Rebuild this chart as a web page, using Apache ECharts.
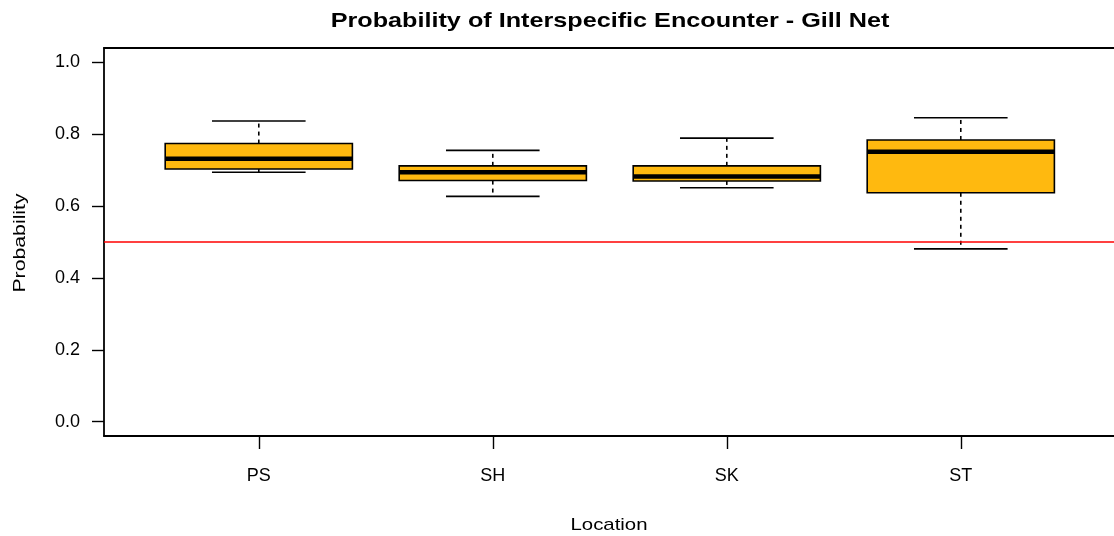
<!DOCTYPE html>
<html>
<head>
<meta charset="utf-8">
<script src="https://cdn.jsdelivr.net/npm/echarts@6/dist/echarts.min.js"></script>
<style>
html,body{margin:0;padding:0;background:#fff;}
#chart{width:1114px;height:536px;}
</style>
</head>
<body>
<div id="chart"></div>
<script>
// ---- data ----
var categories = ['PS', 'SH', 'SK', 'ST'];
var lowerWhisker = [0.694, 0.627, 0.651, 0.481];
var q1 = [0.703, 0.671, 0.670, 0.637];
var median = [0.732, 0.694, 0.682, 0.751];
var q3 = [0.774, 0.712, 0.712, 0.784];
var upperWhisker = [0.837, 0.755, 0.789, 0.846];
var refLine = 0.5;
var yTicks = [0, 0.2, 0.4, 0.6, 0.8, 1.0];
var titleText = 'Probability of Interspecific Encounter - Gill Net';
var xName = 'Location';
var yName = 'Probability';

var FONT = '"Liberation Sans", Arial, sans-serif';
var boxData = categories.map(function (c, i) {
  return [i + 1, lowerWhisker[i], q1[i], median[i], q3[i], upperWhisker[i]];
});
var xTickValues = categories.map(function (c, i) { return i + 1; });
var X_MIN = 0.3385, X_MAX = 0.3385 + 1010 / 234;

var chart = echarts.init(document.getElementById('chart'), null, {renderer: 'canvas'});

function renderBox(params, api) {
  var x = api.value(0);
  var lo = api.value(1), b1 = api.value(2), md = api.value(3), b3 = api.value(4), hi = api.value(5);
  var hw = 0.4, cw = 0.2;
  var pLo = api.coord([x, lo]), pB1 = api.coord([x, b1]), pMd = api.coord([x, md]);
  var pB3 = api.coord([x, b3]), pHi = api.coord([x, hi]);
  var xl = api.coord([x - hw, md])[0], xr = api.coord([x + hw, md])[0];
  var cl = api.coord([x - cw, md])[0], cr = api.coord([x + cw, md])[0];
  var dash = {stroke: '#000', lineWidth: 1.6, lineDash: [4, 4]};
  var solid = {stroke: '#000', lineWidth: 1.6};
  return {
    type: 'group',
    children: [
      {type: 'line', shape: {x1: pB3[0], y1: pB3[1], x2: pHi[0], y2: pHi[1]}, style: dash},
      {type: 'line', shape: {x1: pB1[0], y1: pB1[1], x2: pLo[0], y2: pLo[1]}, style: dash},
      {type: 'line', shape: {x1: cl, y1: pHi[1], x2: cr, y2: pHi[1]}, style: solid},
      {type: 'line', shape: {x1: cl, y1: pLo[1], x2: cr, y2: pLo[1]}, style: solid},
      {type: 'rect', shape: {x: xl, y: pB3[1], width: xr - xl, height: pB1[1] - pB3[1]},
       style: {fill: '#FFB90F', stroke: '#000', lineWidth: 1.6}},
      {type: 'line', shape: {x1: xl, y1: pMd[1], x2: xr, y2: pMd[1]}, style: {stroke: '#000', lineWidth: 4.5}}
    ]
  };
}

var option = {
  animation: false,
  backgroundColor: '#fff',
  textStyle: {fontFamily: FONT},
  grid: {left: 104, top: 48, right: 0, height: 388, show: false},
  xAxis: [{
    type: 'value', min: X_MIN, max: X_MAX, position: 'bottom',
    splitLine: {show: false},
    axisLine: {show: true, onZero: false, lineStyle: {color: '#000', width: 1.8}},
    axisTick: {show: true, customValues: xTickValues, length: 13, lineStyle: {color: '#000', width: 1.4}},
    axisLabel: {customValues: xTickValues, color: '#000', fontSize: 18, fontFamily: FONT, margin: 31,
      formatter: function (v) { return categories[Math.round(v) - 1] || ''; }}
  }, {
    type: 'value', min: X_MIN, max: X_MAX, position: 'top',
    splitLine: {show: false},
    axisLine: {show: true, onZero: false, lineStyle: {color: '#000', width: 1.8}},
    axisTick: {show: false},
    axisLabel: {show: false}
  }],
  yAxis: {
    type: 'value', min: -0.04, max: 1.04,
    splitLine: {show: false},
    axisLine: {show: true, onZero: false, lineStyle: {color: '#000', width: 1.8}},
    axisTick: {show: true, customValues: yTicks, length: 12, lineStyle: {color: '#000', width: 1.4}},
    axisLabel: {customValues: yTicks, color: '#000', fontSize: 18, fontFamily: FONT, margin: 24,
      padding: [4, 0, 0, 0],
      formatter: function (v) { return v.toFixed(1); }}
  },
  graphic: [
    {type: 'text', x: 610, y: 21, scaleX: 1.2, style: {text: titleText, fontSize: 21, fontWeight: 'bold', fontFamily: FONT, fill: '#000', align: 'center', verticalAlign: 'middle'}},
    {type: 'text', x: 609, y: 525, scaleX: 1.2, style: {text: xName, fontSize: 17, fontFamily: FONT, fill: '#000', align: 'center', verticalAlign: 'middle'}},
    {type: 'text', x: 20, y: 243, rotation: Math.PI / 2, scaleX: 1.25, style: {text: yName, fontSize: 17, fontFamily: FONT, fill: '#000', align: 'center', verticalAlign: 'middle'}}
  ],
  series: [
    {
      type: 'custom',
      xAxisIndex: 0,
      renderItem: renderBox,
      data: boxData,
      encode: {x: 0, y: [1, 2, 3, 4, 5]},
      clip: false,
      z: 3,
      markLine: {
        silent: true, symbol: 'none', label: {show: false},
        lineStyle: {color: '#FF0000', width: 1.5, type: 'solid'},
        data: [{yAxis: refLine}]
      }
    }
  ]
};
chart.setOption(option);
</script>
</body>
</html>
